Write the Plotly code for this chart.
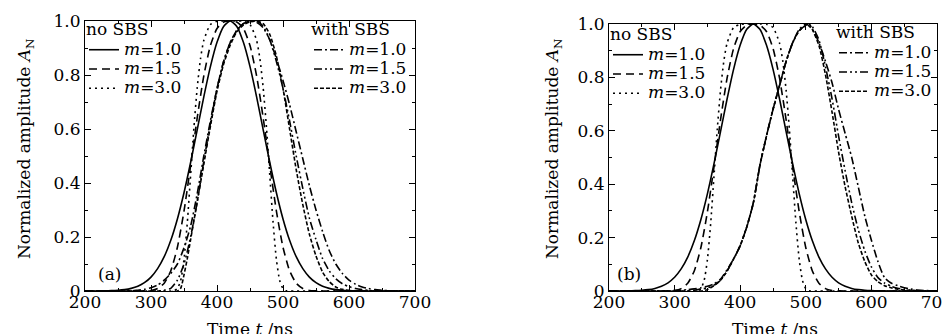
import plotly.graph_objects as go

# ---------------- data ----------------
# input pulses (no SBS), same in both panels
t_m1 = [200, 210, 220, 230, 240, 250, 260, 270, 280, 290, 300, 310, 320, 330, 340, 350, 360, 370, 380, 390,
        400, 410, 420, 430, 440, 450, 460, 470, 480, 490, 500, 510, 520, 530, 540, 550, 560, 570, 580, 590,
        600, 610, 620, 630, 640, 700]
a_m1 = [0, 0.0001, 0.0003, 0.0006, 0.0013, 0.0026, 0.0051, 0.0097, 0.0176, 0.0307, 0.0514, 0.0827, 0.127, 0.188,
        0.267, 0.364, 0.476, 0.597, 0.719, 0.831, 0.921, 0.980, 1.0, 0.980, 0.921, 0.831, 0.719, 0.597, 0.476,
        0.364, 0.267, 0.188, 0.127, 0.0827, 0.0514, 0.0307, 0.0176, 0.0097, 0.0051, 0.0026, 0.0013, 0.0006,
        0.0003, 0.0001, 0, 0]

t_m15 = [200, 280, 290, 300, 310, 320, 330, 340, 350, 360, 370, 380, 390, 400, 410, 420, 430, 440, 450, 460,
         470, 480, 490, 500, 510, 520, 530, 540, 550, 560, 700]
a_m15 = [0, 0, 0.0004, 0.002, 0.009, 0.029, 0.075, 0.162, 0.296, 0.464, 0.641, 0.797, 0.909, 0.972, 0.996, 1.0,
         0.996, 0.972, 0.909, 0.797, 0.641, 0.464, 0.296, 0.162, 0.075, 0.029, 0.009, 0.002, 0.0004, 0, 0]

t_m3 = [200, 320, 330, 335, 340, 345, 350, 355, 360, 365, 370, 375, 380, 390, 400, 410, 420, 430, 440, 450,
        460, 465, 470, 475, 480, 485, 490, 495, 500, 505, 510, 520, 700]
a_m3 = [0, 0, 0, 0.001, 0.009, 0.039, 0.117, 0.253, 0.428, 0.604, 0.752, 0.860, 0.928, 0.987, 0.999, 1.0, 1.0,
        1.0, 0.999, 0.987, 0.928, 0.860, 0.752, 0.604, 0.428, 0.253, 0.117, 0.039, 0.009, 0.001, 0, 0, 0]

# panel (a): with SBS
ta_s1 = [200, 270, 280, 290, 300, 310, 320, 330, 340, 350, 360, 370, 380, 390, 400, 410, 420, 430, 440, 450,
         460, 470, 480, 490, 500, 510, 520, 530, 540, 550, 560, 570, 580, 590, 600, 610, 620, 630, 640, 650,
         660, 670, 700]
aa_s1 = [0, 0, 0.003, 0.006, 0.012, 0.022, 0.04, 0.065, 0.1, 0.16, 0.24, 0.36, 0.5, 0.63, 0.75, 0.85, 0.92,
         0.965, 0.99, 1.0, 0.995, 0.975, 0.93, 0.86, 0.78, 0.69, 0.59, 0.49, 0.39, 0.3, 0.22, 0.15, 0.1, 0.065,
         0.04, 0.025, 0.015, 0.009, 0.005, 0.003, 0.001, 0, 0]

ta_s15 = [200, 310, 320, 330, 340, 350, 360, 370, 380, 390, 400, 410, 420, 430, 440, 450, 460, 470, 480, 490,
          500, 510, 520, 530, 540, 550, 560, 570, 580, 590, 600, 610, 620, 630, 640, 700]
aa_s15 = [0, 0, 0.003, 0.01, 0.04, 0.1, 0.2, 0.33, 0.48, 0.62, 0.75, 0.85, 0.92, 0.965, 0.99, 1.0, 1.0, 0.98,
          0.93, 0.85, 0.75, 0.63, 0.5, 0.38, 0.27, 0.19, 0.12, 0.075, 0.045, 0.027, 0.016, 0.009, 0.005, 0.002,
          0, 0]

ta_s3 = [200, 340, 345, 350, 355, 360, 370, 380, 390, 400, 410, 420, 430, 440, 450, 460, 470, 480, 490, 500,
         510, 520, 530, 540, 550, 560, 570, 580, 590, 600, 610, 700]
aa_s3 = [0, 0, 0.01, 0.06, 0.12, 0.19, 0.33, 0.47, 0.61, 0.74, 0.84, 0.91, 0.96, 0.985, 0.997, 1.0, 0.99, 0.95,
         0.87, 0.75, 0.6, 0.45, 0.32, 0.21, 0.13, 0.07, 0.035, 0.015, 0.006, 0.002, 0, 0]

# panel (b): with SBS
tb_s1 = [200, 290, 300, 310, 320, 330, 340, 350, 360, 370, 380, 390, 400, 410, 420, 430, 440, 450, 460, 470,
         480, 490, 500, 510, 520, 530, 540, 550, 560, 570, 580, 590, 600, 610, 620, 630, 640, 650, 660, 670,
         680, 690, 700]
ab_s1 = [0, 0, 0.002, 0.003, 0.005, 0.008, 0.012, 0.018, 0.027, 0.045, 0.08, 0.12, 0.17, 0.24, 0.33, 0.47,
         0.58, 0.68, 0.77, 0.86, 0.93, 0.98, 1.0, 0.98, 0.93, 0.86, 0.78, 0.68, 0.59, 0.5, 0.39, 0.28, 0.19,
         0.11, 0.05, 0.03, 0.02, 0.012, 0.007, 0.004, 0.002, 0.001, 0]

tb_s15 = [200, 320, 330, 340, 350, 360, 370, 380, 390, 400, 410, 420, 430, 440, 450, 460, 470, 480, 490, 500,
          505, 510, 520, 530, 540, 550, 560, 570, 580, 590, 600, 610, 620, 630, 640, 650, 660, 670, 700]
ab_s15 = [0, 0, 0.003, 0.007, 0.012, 0.022, 0.04, 0.075, 0.12, 0.17, 0.24, 0.33, 0.47, 0.58, 0.68, 0.77, 0.86,
          0.93, 0.975, 0.995, 1.0, 0.99, 0.94, 0.84, 0.72, 0.58, 0.45, 0.33, 0.23, 0.15, 0.09, 0.05, 0.03,
          0.018, 0.01, 0.006, 0.003, 0.001, 0]

tb_s3 = [200, 340, 350, 360, 370, 380, 390, 400, 410, 420, 430, 440, 450, 460, 470, 480, 490, 500, 505, 510,
         520, 530, 540, 550, 560, 570, 580, 590, 600, 610, 620, 630, 640, 650, 660, 670, 700]
ab_s3 = [0, 0, 0.005, 0.02, 0.04, 0.075, 0.12, 0.17, 0.24, 0.33, 0.47, 0.58, 0.68, 0.77, 0.86, 0.93, 0.975,
         0.995, 1.0, 0.98, 0.92, 0.81, 0.67, 0.52, 0.39, 0.28, 0.18, 0.11, 0.06, 0.035, 0.02, 0.012, 0.007,
         0.004, 0.002, 0, 0]

x_ticks = [200, 300, 400, 500, 600, 700]
y_ticks = [0, 0.2, 0.4, 0.6, 0.8, 1.0]
y_ticktext = ["0", "0.2", "0.4", "0.6", "0.8", "1.0"]
m_labels = ["<i>m</i>=1.0", "<i>m</i>=1.5", "<i>m</i>=3.0"]

# ---------------- styles ----------------
FONT = "DejaVu Serif"
W, H = 950, 334
LW = 1.6
dash_no = ["solid", "8px,5px", "2px,4px"]
dash_sbs = ["8px,3px,2px,3px", "8px,3px,2px,3px,2px,3px", "4px,2px"]

fig = go.Figure()

def add(t, a, name, dash, xa, ya, legend):
    fig.add_trace(go.Scatter(
        x=t, y=a, mode="lines",
        name='<span style="font-size:17px">' + name + '</span>',
        xaxis=xa, yaxis=ya, legend=legend,
        line=dict(color="black", width=LW, dash=dash, shape="spline", smoothing=0.6),
        hoverinfo="skip"))

no_sbs = [(t_m1, a_m1), (t_m15, a_m15), (t_m3, a_m3)]
sbs_a = [(ta_s1, aa_s1), (ta_s15, aa_s15), (ta_s3, aa_s3)]
sbs_b = [(tb_s1, ab_s1), (tb_s15, ab_s15), (tb_s3, ab_s3)]

for i, (t, a) in enumerate(no_sbs):
    add(t, a, m_labels[i], dash_no[i], "x", "y", "legend")
for i, (t, a) in enumerate(sbs_a):
    add(t, a, m_labels[i], dash_sbs[i], "x", "y", "legend2")
for i, (t, a) in enumerate(no_sbs):
    add(t, a, m_labels[i], dash_no[i], "x2", "y2", "legend3")
for i, (t, a) in enumerate(sbs_b):
    add(t, a, m_labels[i], dash_sbs[i], "x2", "y2", "legend4")

def px_x(p):
    return p / W

def px_y(p):
    return 1 - p / H

tickfont = dict(family=FONT, size=17, color="black")

def xaxis(domain, anchor):
    return dict(domain=domain, anchor=anchor, range=[200, 700], tickvals=x_ticks,
                ticks="inside", ticklen=6, tickwidth=1, tickcolor="black", ticklabelstandoff=-5,
                minor=dict(dtick=50, tick0=200, ticks="inside", ticklen=3, tickcolor="black"),
                showline=True, linecolor="black", linewidth=1.2, mirror="allticks",
                showgrid=False, zeroline=False, tickfont=tickfont, automargin=False, fixedrange=True)

def yaxis(domain, anchor):
    return dict(domain=domain, anchor=anchor, range=[0, 1], tickvals=y_ticks, ticktext=y_ticktext,
                ticks="inside", ticklen=6, tickwidth=1, tickcolor="black",
                minor=dict(dtick=0.1, tick0=0, ticks="inside", ticklen=3, tickcolor="black"),
                showline=True, linecolor="black", linewidth=1.2, mirror="allticks",
                showgrid=False, zeroline=False, tickfont=tickfont, automargin=False, fixedrange=True)

leg_font = dict(family=FONT, size=12.5, color="black")
title_font = dict(family=FONT, size=17, color="black")

def legend(x, y, xanchor, title):
    return dict(x=x, y=y, xanchor=xanchor, yanchor="top", xref="paper", yref="paper",
                bgcolor="rgba(0,0,0,0)", borderwidth=0, font=leg_font,
                title=dict(text=title, font=title_font, side="top"),
                itemwidth=30, tracegroupgap=0)

annotations = []
for cx, cy, text in [(242, 321, "Time <i>t</i> /ns"), (767, 321, "Time <i>t</i> /ns")]:
    annotations.append(dict(x=px_x(cx), y=px_y(cy), xref="paper", yref="paper", text=text,
                            showarrow=False, xanchor="center", yanchor="middle", font=tickfont))
for cx, text in [(18, "Normalized amplitude <i>A</i><sub>N</sub>"),
                 (546, "Normalized amplitude <i>A</i><sub>N</sub>")]:
    annotations.append(dict(x=px_x(cx), y=px_y(141), xref="paper", yref="paper", text=text,
                            textangle=-90, showarrow=False, xanchor="center", yanchor="middle",
                            font=tickfont))
for lx, text in [(88, "(a)"), (607, "(b)")]:
    annotations.append(dict(x=px_x(lx), y=px_y(266), xref="paper", yref="paper", text=text,
                            showarrow=False, xanchor="left", yanchor="middle", font=tickfont))

fig.update_layout(
    width=W, height=H, margin=dict(l=0, r=0, t=0, b=0),
    paper_bgcolor="white", plot_bgcolor="white",
    xaxis=xaxis([px_x(77), px_x(407)], "y"),
    yaxis=yaxis([px_y(283), px_y(13)], "x"),
    xaxis2=xaxis([px_x(601), px_x(929)], "y2"),
    yaxis2=yaxis([px_y(283), px_y(16)], "x2"),
    legend=legend(px_x(76), px_y(5), "left", "no SBS"),
    legend2=legend(px_x(404), px_y(5), "right", "with SBS"),
    legend3=legend(px_x(600), px_y(10), "left", "no SBS"),
    legend4=legend(px_x(929), px_y(8), "right", "with SBS"),
    annotations=annotations,
    showlegend=True,
)

fig.write_html("out.html")
